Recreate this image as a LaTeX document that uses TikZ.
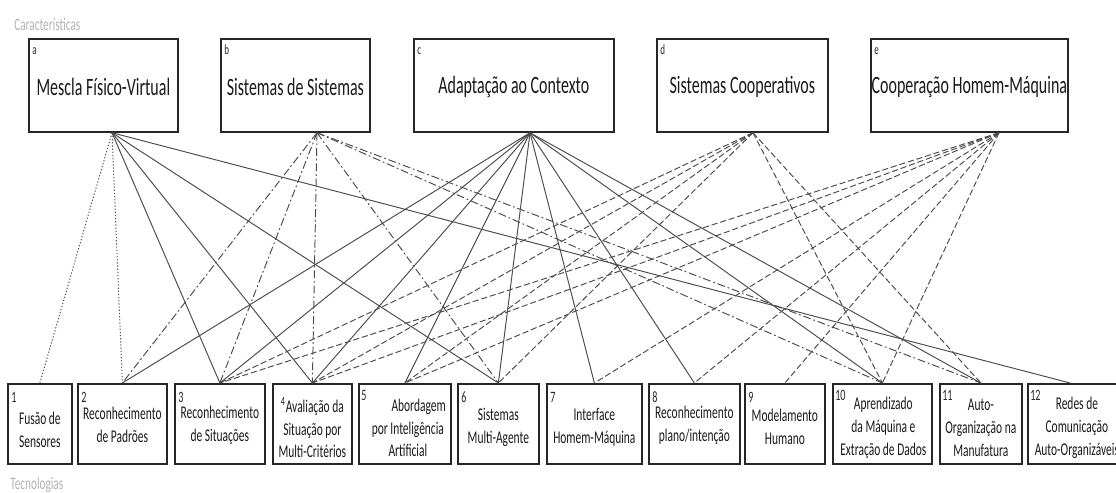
\documentclass[tikz,border=0pt]{standalone}
\usepackage{fontspec}
\setmainfont{Carlito}[FakeStretch=0.64]
\usetikzlibrary{calc}
\begin{document}
\begin{tikzpicture}[x=0.02cm,y=-0.02cm,
  boxline/.style={draw=black!85, line width=1pt},
  topbox/.style={boxline, anchor=north west, minimum width=#1*0.02cm, minimum height=1.86cm, inner sep=0pt},
  botbox/.style={boxline, anchor=north west, minimum width=#1*0.02cm, minimum height=1.6cm, inner sep=0pt},
  toptxt/.style={font=\fontsize{14.2}{17}\selectfont, inner sep=0pt, text=black!90},
  bottxt/.style={font=\fontsize{10.2}{13}\selectfont, align=center, inner sep=0pt, text=black!90},
  tag/.style={font=\fontsize{8}{9}\selectfont, inner sep=0pt, anchor=base west, text=black!85},
  num/.style={font=\fontsize{9}{10}\selectfont, inner sep=0pt, anchor=base west, text=black!85},
  caption/.style={font=\fontsize{10}{12}\selectfont, text=black!30, inner sep=0pt, anchor=west},
  link/.style={draw=black!70, line width=0.55pt},
  solidlink/.style={link},
  dotlink/.style={link, dash pattern=on 0.7pt off 1.1pt},
  dashdotlink/.style={link, dash pattern=on 4.5pt off 1.6pt on 1pt off 1.6pt},
  dashlink/.style={link, dash pattern=on 3.5pt off 1.6pt},
]
\useasboundingbox (0,0) rectangle (1116,493);

% group captions
\node[caption] (capC) at (14,24) {Características};
\node[caption] (capT) at (10,485) {Tecnologias};

% characteristics (top row)
\node[topbox=149] (a) at (28,38) {};
\node[topbox=149] (b) at (220,38) {};
\node[topbox=200] (c) at (413,38) {};
\node[topbox=171] (d) at (656,38) {};
\node[topbox=197] (e) at (870,38) {};

\node[toptxt] at ($(a.center)+(0,1.5)$) {Mescla Físico-Virtual};
\node[toptxt] at ($(b.center)+(0,1.5)$) {Sistemas de Sistemas};
\node[toptxt] at ($(c.center)+(0,1.5)$) {Adaptação ao Contexto};
\node[toptxt] at ($(d.center)+(0,1.5)$) {Sistemas Cooperativos};
\node[toptxt] at ($(e.center)+(0,1.5)$) {Cooperação Homem-Máquina};

\foreach \n in {a,b,c,d,e}
  \node[tag] at ($(\n.north west)+(4,17)$) {\n};

% connector origins on the lower edge of each characteristic
\coordinate (pa) at ($(a.south west)+(84,0)$);
\coordinate (pb) at ($(b.south west)+(97,0)$);
\coordinate (pc) at ($(c.south west)+(117,0)$);
\coordinate (pd) at ($(d.south west)+(97,0)$);
\coordinate (pe) at ($(e.south west)+(129,0)$);

% technologies (bottom row)
\node[botbox=64] (t1) at (7,383) {};
\node[botbox=89] (t2) at (77,383) {};
\node[botbox=90] (t3) at (174,383) {};
\node[botbox=79] (t4) at (272,383) {};
\node[botbox=92] (t5) at (358,383) {};
\node[botbox=81] (t6) at (457,383) {};
\node[botbox=95] (t7) at (546,383) {};
\node[botbox=91] (t8) at (648,383) {};
\node[botbox=80] (t9) at (744,383) {};
\node[botbox=99] (t10) at (832,383) {};
\node[botbox=82] (t11) at (939,383) {};
\node[botbox=98] (t12) at (1027,383) {};

\coordinate (q12) at ($(t12.north west)+(43,0)$);

\foreach \k in {1,2,3,6,7,8,9}
  \node[num] at ($(t\k.north west)+(4,19)$) {\k};
\foreach \k in {5,10,11,12}
  \node[num] at ($(t\k.north west)+(3,17)$) {\k};

\node[bottxt] at ($(t1.north)+(0,47)$) {Fusão de\\Sensores};
\node[bottxt] at ($(t2.north)+(0,42)$) {Reconhecimento\\de Padrões};
\node[bottxt] at ($(t3.north)+(0,42)$) {Reconhecimento\\de Situações};
\node[bottxt] at ($(t4.north)+(0,45)$) {\textsuperscript{4}Avaliação da\\Situação por\\Multi-Critérios};
\node[bottxt] at ($(t5.north)+(3,45)$) {\hspace*{1.2em}Abordagem\\por Inteligência\\Artificial};
\node[bottxt] at ($(t6.north)+(0,44)$) {Sistemas\\Multi-Agente};
\node[bottxt] at ($(t7.north)+(0,44)$) {Interface\\Homem-Máquina};
\node[bottxt] at ($(t8.north)+(0,42)$) {Reconhecimento\\plano/intenção};
\node[bottxt] at ($(t9.north)+(0,44)$) {Modelamento\\Humano};
\node[bottxt] at ($(t10.north)+(1,45)$) {Aprendizado\\da Máquina e\\Extração de Dados};
\node[bottxt] at ($(t11.north)+(0,45)$) {Auto-\\Organização na\\Manufatura};
\node[bottxt] at ($(t12.north)+(0,45)$) {Redes de\\Comunicação\\Auto-Organizáveis};

% Mescla Físico-Virtual
\foreach \k in {1,2} \draw[dotlink] (pa) -- (t\k.north);
\foreach \k in {3,4,6} \draw[solidlink] (pa) -- (t\k.north);
\draw[solidlink] (pa) -- (q12);

% Sistemas de Sistemas
\foreach \k in {2,3,4,6,10,11} \draw[dashdotlink] (pb) -- (t\k.north);

% Adaptação ao Contexto
\foreach \k in {2,3,4,5,6,7,8,10,11} \draw[solidlink] (pc) -- (t\k.north);

% Sistemas Cooperativos
\foreach \k in {3,4,5,6,10,11} \draw[dashlink] (pd) -- (t\k.north);

% Cooperação Homem-Máquina
\foreach \k in {3,4,5,7,8,9,10} \draw[dashlink] (pe) -- (t\k.north);

\end{tikzpicture}
\end{document}
